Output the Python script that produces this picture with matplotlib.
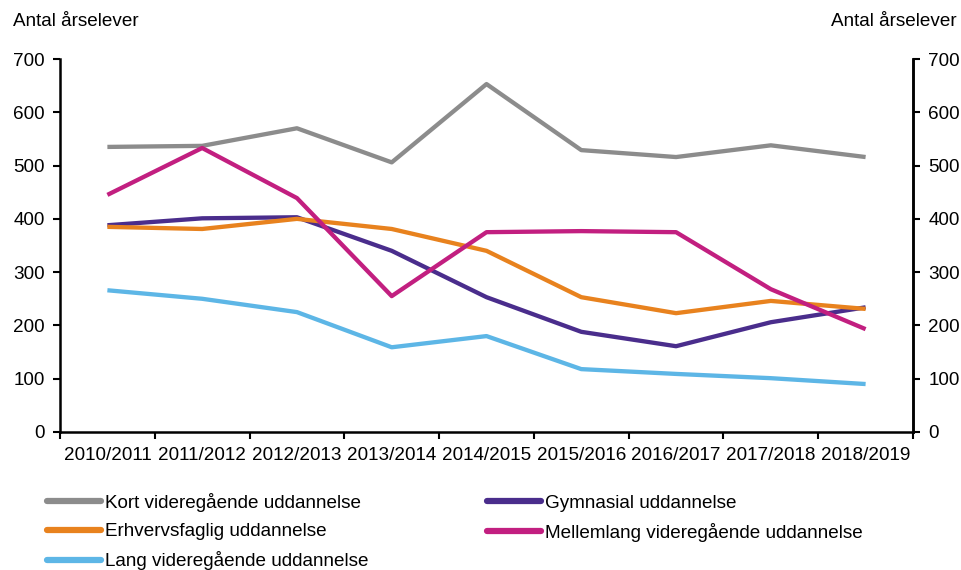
import matplotlib
matplotlib.use("Agg")
import matplotlib.pyplot as plt
import numpy as np

plt.rcParams['font.family'] = ['Liberation Sans', 'DejaVu Sans']

years = ["2010/2011", "2011/2012", "2012/2013", "2013/2014", "2014/2015",
         "2015/2016", "2016/2017", "2017/2018", "2018/2019"]
kort = [535, 537, 570, 506, 653, 529, 516, 538, 516]
gymnasial = [388, 401, 403, 340, 253, 188, 161, 206, 234]
erhverv = [385, 381, 400, 381, 340, 253, 223, 246, 231]
mellemlang = [445, 533, 439, 255, 375, 377, 375, 268, 193]
lang = [266, 250, 225, 159, 180, 118, 109, 101, 90]

series = [
    ("Kort videregående uddannelse", kort, "#8C8C8C"),
    ("Erhvervsfaglig uddannelse", erhverv, "#E8821E"),
    ("Lang videregående uddannelse", lang, "#5DB6E6"),
    ("Gymnasial uddannelse", gymnasial, "#4A2D8C"),
    ("Mellemlang videregående uddannelse", mellemlang, "#C21F80"),
]
draw_order = [0, 3, 1, 4, 2]

fig = plt.figure(figsize=(9.61, 5.70), dpi=100)
ax = fig.add_axes([60/961, 138/570, 853/961, 373/570])
x = np.arange(len(years))
lines = {}
for i in draw_order:
    name, vals, col = series[i]
    ln, = ax.plot(x, vals, color=col, lw=3.1, solid_capstyle='butt', label=name)
    lines[i] = ln

fs = 13.6
ax.set_xlim(-0.5, len(years) - 0.5)
ax.set_ylim(0, 700)
ax.set_yticks(range(0, 701, 100))
ax.set_xticks(np.arange(-0.5, len(years), 1.0))
ax.set_xticklabels([])
ax.set_xticks(x, minor=True)
ax.set_xticklabels(years, minor=True, fontsize=fs)
ax.tick_params(axis='x', which='minor', length=0, pad=11)
ax.tick_params(axis='x', which='major', direction='out', length=5, width=1.5)
ax.tick_params(axis='y', direction='out', length=5, width=1.5, labelsize=fs, pad=6)
for s in ['left', 'bottom', 'right']:
    ax.spines[s].set_linewidth(1.8)
ax.spines['top'].set_visible(False)

ax2 = ax.twinx()
ax2.set_ylim(0, 700)
ax2.set_yticks(range(0, 701, 100))
ax2.tick_params(axis='y', direction='out', length=5, width=1.5, labelsize=fs, pad=6)
for s in ['left', 'bottom', 'top']:
    ax2.spines[s].set_visible(False)
ax2.spines['right'].set_linewidth(1.8)

fig.text(13/961, 1 - 22/570, "Antal årselever", fontsize=fs, ha='left', va='center')
fig.text(957/961, 1 - 22/570, "Antal årselever", fontsize=fs, ha='right', va='center')

handles = [lines[i] for i in range(5)]
labels = [series[i][0] for i in range(5)]
leg = fig.legend(handles, labels, ncol=2, loc='upper left',
                 bbox_to_anchor=(47/961, 1 - 493/570), frameon=False,
                 fontsize=fs, handlelength=2.85, handletextpad=0.22,
                 labelspacing=0.58, columnspacing=6.28, borderaxespad=0, borderpad=0)
for lh in leg.get_lines():
    lh.set_linewidth(4.5)
    lh.set_solid_capstyle('round')

fig.savefig("out.png", dpi=100)
